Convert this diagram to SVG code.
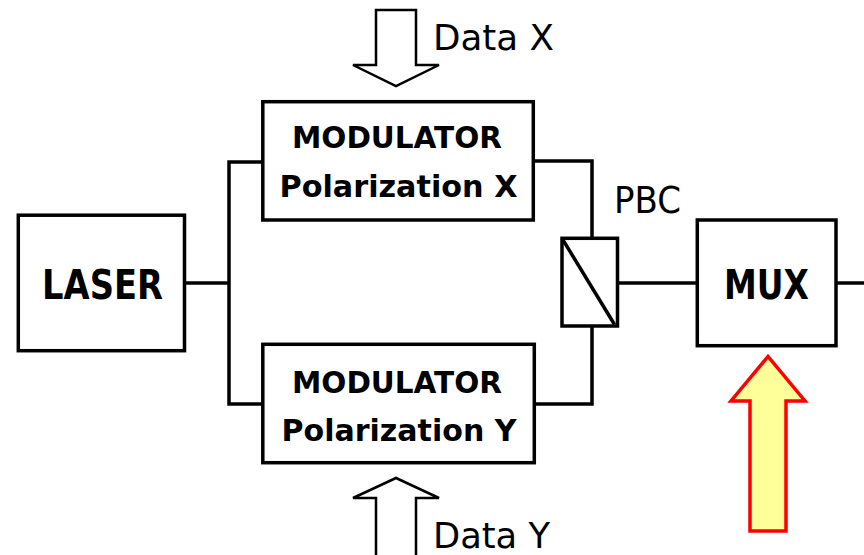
<svg xmlns="http://www.w3.org/2000/svg" width="864" height="555" viewBox="0 0 864 555">
<style>
.box{fill:#fff;stroke:#000;stroke-width:3.5}
.ln{fill:none;stroke:#000;stroke-width:3.5;stroke-linejoin:miter}
.b{font-family:"DejaVu Sans","Liberation Sans",sans-serif;font-weight:bold;fill:#000;text-anchor:middle}
.n{font-family:"DejaVu Sans","Liberation Sans",sans-serif;fill:#000}
.arr{fill:#fff;stroke:#000;stroke-width:2.5}
</style>
<rect width="864" height="555" fill="#fff"/>
<g id="connectors">
<polyline class="ln" points="184,283 229,283"/>
<polyline class="ln" points="262,162 229,162 229,404 262,404"/>
<polyline class="ln" points="533,161 592,161 592,238"/>
<polyline class="ln" points="534,404 592,404 592,326"/>
<polyline class="ln" points="618,283 697,283"/>
<polyline class="ln" points="836,283 864,283"/>
</g>
<g id="laser">
<rect class="box" x="18.3" y="215.2" width="166.2" height="135.5"/>
<text class="b" x="102.5" y="299" font-size="41" textLength="121" lengthAdjust="spacingAndGlyphs">LASER</text>
</g>
<g id="modX">
<rect class="box" x="262.8" y="101.7" width="270.5" height="118.3"/>
<text class="b" x="397" y="148" font-size="31" textLength="210" lengthAdjust="spacingAndGlyphs">MODULATOR</text>
<text class="b" x="398.5" y="196.5" font-size="31" textLength="238" lengthAdjust="spacingAndGlyphs">Polarization X</text>
</g>
<g id="modY">
<rect class="box" x="262.8" y="344.3" width="271.5" height="118.4"/>
<text class="b" x="397" y="392.5" font-size="31" textLength="210" lengthAdjust="spacingAndGlyphs">MODULATOR</text>
<text class="b" x="399" y="440.5" font-size="31" textLength="235" lengthAdjust="spacingAndGlyphs">Polarization Y</text>
</g>
<g id="pbc">
<rect class="box" x="562" y="238.3" width="55.5" height="87.7"/>
<line class="ln" x1="562" y1="238.3" x2="614.5" y2="324.5"/>
<text class="n" x="614" y="212.5" font-size="37" textLength="67" lengthAdjust="spacingAndGlyphs">PBC</text>
</g>
<g id="mux">
<rect class="box" x="697.3" y="220" width="138.7" height="125.7"/>
<text class="b" x="766.5" y="299" font-size="41" textLength="85" lengthAdjust="spacingAndGlyphs">MUX</text>
</g>
<g id="dataX">
<polygon class="arr" points="376,10 416,10 416,65 439,65 396,86 353,65 376,65"/>
<text class="n" x="433" y="50" font-size="35" textLength="121" lengthAdjust="spacingAndGlyphs">Data X</text>
</g>
<g id="dataY">
<polygon class="arr" points="376,560 376,498 353,498 396,478 439,498 416,498 416,560"/>
<text class="n" x="433" y="547.5" font-size="35" textLength="117" lengthAdjust="spacingAndGlyphs">Data Y</text>
</g>
<g id="yellowArrow">
<polygon points="750,531 750,401 731,401 768,356.5 805,401 786,401 786,531" fill="#ffff99" stroke="#ff0000" stroke-width="3.5"/>
</g>
</svg>
